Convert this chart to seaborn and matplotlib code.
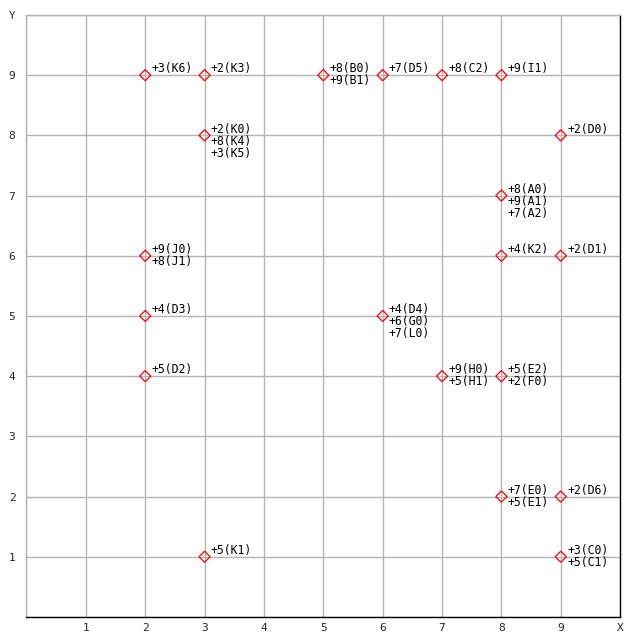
import matplotlib
matplotlib.use('Agg')
import matplotlib.pyplot as plt
import seaborn as sns
import pandas as pd

# point positions and the labels attached to each point
pt_x = [2, 3, 3, 5, 6, 7, 8, 9, 8, 2, 8, 9, 2, 6, 2, 7, 8, 8, 9, 3, 9]
pt_y = [9, 9, 8, 9, 9, 9, 9, 8, 7, 6, 6, 6, 5, 5, 4, 4, 4, 2, 2, 1, 1]
pt_labels = [
    ['+3(K6)'],
    ['+2(K3)'],
    ['+2(K0)', '+8(K4)', '+3(K5)'],
    ['+8(B0)', '+9(B1)'],
    ['+7(D5)'],
    ['+8(C2)'],
    ['+9(I1)'],
    ['+2(D0)'],
    ['+8(A0)', '+9(A1)', '+7(A2)'],
    ['+9(J0)', '+8(J1)'],
    ['+4(K2)'],
    ['+2(D1)'],
    ['+4(D3)'],
    ['+4(D4)', '+6(G0)', '+7(L0)'],
    ['+5(D2)'],
    ['+9(H0)', '+5(H1)'],
    ['+5(E2)', '+2(F0)'],
    ['+7(E0)', '+5(E1)'],
    ['+2(D6)'],
    ['+5(K1)'],
    ['+3(C0)', '+5(C1)'],
]
x_ticks = list(range(0, 11))
x_ticklabels = [''] + [str(i) for i in range(1, 10)] + ['X']
y_ticks = list(range(0, 11))
y_ticklabels = [''] + [str(i) for i in range(1, 10)] + ['Y']

df = pd.DataFrame({'x': pt_x, 'y': pt_y})

sns.set_style('white')
plt.rcParams['font.family'] = ['DejaVu Sans Mono']

fig = plt.figure(figsize=(6.4, 6.4), dpi=100)
ax = fig.add_axes([0.0414, 0.036, 0.9276, 0.9406])

grid_col = '#b4b4b4'
for v in x_ticks:
    ax.axvline(v, color=grid_col, lw=1, zorder=1)
for v in y_ticks:
    ax.axhline(v, color=grid_col, lw=1, zorder=1)

sns.scatterplot(data=df, x='x', y='y', marker='D', s=32, facecolor='none',
                edgecolor='red', linewidth=0.9, ax=ax, zorder=3)

for x, y, labs in zip(pt_x, pt_y, pt_labels):
    for i, lab in enumerate(labs):
        ax.annotate(lab, (x, y), xytext=(4.5, 4.5 - 8.6 * i),
                    textcoords='offset points', fontsize=8.3,
                    va='center', ha='left', color='black')

ax.set_xlim(0, 10)
ax.set_ylim(0, 10)
ax.set_xticks(x_ticks)
ax.set_xticklabels(x_ticklabels)
ax.set_yticks(y_ticks)
ax.set_yticklabels(y_ticklabels)
ax.tick_params(length=0, labelsize=8)
ax.tick_params(axis='x', pad=4)
ax.tick_params(axis='y', pad=8)
ax.set_xlabel('')
ax.set_ylabel('')

ax.spines['left'].set_color(grid_col)
ax.spines['top'].set_color(grid_col)
ax.spines['bottom'].set_color('black')
ax.spines['right'].set_color('black')
for s in ax.spines.values():
    s.set_linewidth(1)

fig.savefig('out.png', dpi=100)
